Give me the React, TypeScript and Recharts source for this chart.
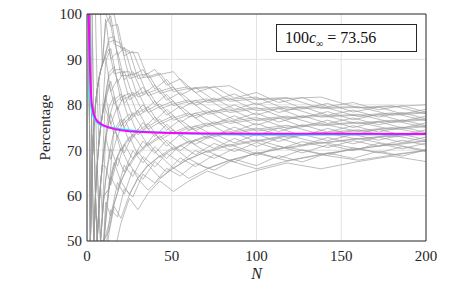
import React from "react";
import {
  LineChart,
  Line,
  XAxis,
  YAxis,
  CartesianGrid,
} from "recharts";

const grayN = [1, 2, 3, 4, 5, 6, 7, 8, 10, 13, 16, 20, 25, 30, 36, 43, 51, 60, 71, 84, 100, 118, 138, 160, 180, 200];

// first group of individual runs (percentage at each grayN)
const grayRuns: number[][] = [
  [100, 100, 100, 100, 100, 100, 100, 100, 100, 100, 100, 92.4, 91.5, 91.5, 85.9, 86.7, 87.3, 83.4, 83.8, 84.2, 81.1, 81.4, 81.7, 79.3, 79.6, 80],
  [100, 100, 100, 100, 100, 100, 100, 100, 100, 100, 93.4, 92.7, 91.9, 85.8, 86.2, 87, 82.9, 83.6, 84, 80.8, 81.3, 81.6, 79.2, 79.4, 79.8, 78],
  [100, 100, 100, 100, 100, 83.3, 85.7, 87.5, 90, 93.8, 94.2, 93.5, 85.8, 86.4, 86.9, 82.5, 83.4, 84, 80.5, 81.2, 81.7, 78.9, 79.4, 79.6, 77.7, 78.2],
  [100, 100, 66.7, 75, 80, 83.3, 85.7, 87.5, 90, 94.7, 95, 86.4, 86.5, 87.1, 82, 83, 83.9, 80.2, 80.9, 81.5, 78.7, 79.3, 79.7, 77.4, 78, 78.4],
  [100, 50, 66.7, 75, 80, 83.3, 85.7, 87.5, 90, 92.3, 86.8, 87.2, 87.3, 81.7, 82.6, 83.6, 79.8, 80.7, 81.3, 78.3, 79.1, 79.6, 77.3, 77.7, 78.2, 76.5],
  [0, 50, 66.7, 75, 80, 83.3, 71.4, 75, 80, 86.3, 87.6, 87.9, 81.1, 82.3, 83.2, 79.1, 80.2, 81.1, 77.9, 78.7, 79.4, 76.9, 77.5, 77.9, 76.1, 76.7],
  [100, 100, 66.7, 50, 60, 66.7, 71.4, 75, 80, 87.1, 88.4, 80.9, 81.9, 82.9, 78.3, 79.6, 80.8, 77.3, 78.3, 79.1, 76.5, 77.2, 77.8, 75.8, 76.4, 76.9],
  [100, 100, 100, 75, 80, 83.3, 85.7, 75, 80, 84.6, 80.2, 81.6, 82.6, 77.6, 78.9, 80.2, 76.6, 77.8, 78.7, 75.9, 76.8, 77.5, 75.4, 76, 76.6, 75],
  [0, 50, 66.7, 50, 60, 66.7, 71.4, 75, 80, 76.9, 81, 82.4, 76.5, 78.2, 79.6, 75.7, 77.1, 78.2, 75.2, 76.3, 77.2, 74.8, 75.6, 76.2, 74.5, 75.2],
  [100, 50, 66.7, 75, 60, 50, 57.1, 62.5, 70, 79.6, 81.8, 75.3, 77.2, 78.8, 74.6, 76.2, 77.6, 74.4, 75.6, 76.7, 74.2, 75.1, 75.9, 74.1, 74.8, 75.4],
  [0, 0, 33.3, 50, 60, 50, 57.1, 62.5, 70, 76.9, 73.6, 76.1, 78, 73.4, 75.2, 76.8, 73.5, 74.9, 76, 73.4, 74.6, 75.5, 73.5, 74.3, 75, 73.5],
  [100, 100, 100, 75, 60, 66.7, 57.1, 50, 60, 69.2, 74.4, 76.8, 71.8, 74.1, 75.9, 72.3, 73.9, 75.3, 72.6, 73.8, 74.9, 72.8, 73.8, 74.5, 72.9, 73.7],
  [0, 50, 33.3, 25, 40, 50, 42.9, 50, 60, 61.5, 75.2, 69.8, 72.6, 74.7, 71, 72.8, 74.5, 71.5, 73, 74.2, 71.9, 73.1, 74, 72.4, 73.2, 73.9],
  [100, 50, 33.3, 50, 40, 33.3, 42.9, 50, 50, 61.5, 66.5, 70.2, 73, 69, 71.3, 73.2, 70.1, 71.8, 73.2, 70.8, 72.1, 73.3, 71.5, 72.5, 73.3, 71.9],
  [0, 0, 33.3, 25, 40, 50, 57.1, 50, 60, 61.5, 66.9, 70.5, 66.5, 69.4, 71.7, 68.4, 70.3, 72, 69.5, 71.1, 72.3, 70.4, 71.6, 72.6, 71.1, 72],
  [0, 50, 33.3, 25, 20, 33.3, 42.9, 37.5, 50, 62.9, 67.3, 63.1, 67, 69.7, 66.6, 68.7, 70.7, 68, 69.8, 71.3, 69.2, 70.6, 71.8, 70.3, 71.3, 72.1],
  [100, 50, 33.3, 25, 40, 33.3, 28.6, 37.5, 50, 53.8, 58.2, 63.1, 67.1, 63.8, 66.6, 68.8, 66, 68.1, 69.8, 67.7, 69.3, 70.7, 69.1, 70.3, 71.3, 70],
  [0, 0, 0, 25, 20, 33.3, 42.9, 50, 50, 52.4, 58.1, 63.1, 60.3, 63.9, 66.8, 63.9, 66.1, 68.1, 66, 67.8, 69.3, 67.7, 69.1, 70.3, 69, 70],
  [0, 50, 33.3, 25, 20, 16.7, 28.6, 37.5, 43.7, 51.8, 57.6, 55, 60.2, 63.7, 61.2, 63.7, 66.1, 63.8, 65.9, 67.7, 65.9, 67.6, 69, 67.8, 68.9, 69.9],
  [0, 0, 0, 0, 20, 16.7, 28.6, 25, 41.7, 50.1, 47.2, 53.9, 59.4, 56.9, 60.5, 63.2, 60.9, 63.2, 65.4, 63.7, 65.5, 67.2, 65.9, 67.5, 68.7, 67.5],
];

// sample sizes for the second group of runs
const grayN2 = [1, 2, 3, 4, 5, 6, 7, 8, 9, 11, 14, 18, 22, 27, 33, 40, 47, 55, 64, 75, 87, 100, 113, 127, 142, 157, 172, 186, 200];

// second group of individual runs (percentage at each grayN2)
const grayRuns2: number[][] = [
  [100, 100, 100, 100, 100, 100, 100, 100, 100, 100, 97.3, 97.7, 90.8, 91.8, 86.2, 87.8, 84.3, 85.7, 82.7, 84, 81.5, 82.7, 80.5, 81.6, 79.6, 80.5, 78.9, 79.8, 78.4],
  [100, 100, 100, 100, 100, 100, 100, 100, 88.9, 97.9, 99.6, 90.9, 92.7, 86.4, 87.8, 83.5, 85.6, 82.1, 83.8, 81, 82.4, 80, 81.3, 79.2, 80.3, 78.4, 79.5, 78, 79],
  [100, 50, 66.7, 75, 80, 83.3, 85.7, 87.5, 88.9, 98.9, 90.1, 91.7, 85.5, 87.3, 82.3, 84.3, 81, 82.7, 79.9, 81.5, 79, 80.4, 78.3, 79.6, 77.7, 78.8, 77.3, 78.3, 76.9],
  [100, 100, 66.7, 75, 80, 66.7, 71.4, 75, 77.8, 89.5, 92.4, 84.9, 87.4, 81.9, 83.9, 80, 82.3, 79.1, 81, 78.4, 80, 77.7, 79.2, 77.2, 78.5, 76.7, 77.9, 76.4, 77.5],
  [0, 50, 66.7, 75, 80, 83.3, 85.7, 87.5, 88.9, 90.5, 82.9, 85.7, 80.3, 82.8, 78.4, 80.8, 77.7, 79.7, 77.1, 78.9, 76.7, 78.2, 76.2, 77.6, 75.9, 77.1, 75.6, 76.7, 75.4],
  [100, 50, 33.3, 50, 60, 66.7, 71.4, 75, 77.8, 81.1, 85.2, 78.9, 82.2, 77.4, 80, 76.5, 79, 76.1, 78.2, 75.8, 77.6, 75.5, 77.1, 75.2, 76.6, 75, 76.3, 74.9, 76],
  [0, 0, 33.3, 50, 60, 66.7, 57.1, 62.5, 66.7, 82.1, 75.7, 79.7, 75, 78.3, 74.5, 77.3, 74.4, 76.7, 74.3, 76.3, 74.2, 75.9, 74.1, 75.6, 74, 75.4, 74, 75.1, 73.9],
  [100, 100, 66.7, 75, 60, 50, 57.1, 62.5, 66.7, 72.7, 78, 72.9, 76.9, 72.9, 76.1, 73, 75.7, 73.1, 75.4, 73.2, 75.1, 73.2, 74.9, 73.2, 74.8, 73.3, 74.6, 73.3, 74.5],
  [0, 50, 33.3, 50, 60, 50, 57.1, 62.5, 55.6, 73.1, 68, 73.3, 69.4, 73.5, 70.3, 73.6, 70.9, 73.5, 71.3, 73.6, 71.6, 73.5, 71.9, 73.5, 72.1, 73.5, 72.2, 73.5, 72.3],
  [100, 50, 66.7, 50, 40, 50, 42.9, 50, 55.6, 63.8, 70.3, 66.5, 71.3, 68.1, 72, 69.3, 72.2, 69.9, 72.3, 70.4, 72.6, 70.8, 72.7, 71.1, 72.8, 71.4, 72.9, 71.7, 72.9],
  [0, 0, 33.3, 25, 40, 50, 57.1, 62.5, 66.7, 66.4, 62.3, 68.5, 65.2, 69.9, 67.2, 70.8, 68.2, 71.1, 69, 71.5, 69.7, 71.7, 70.2, 71.9, 70.6, 72.1, 70.9, 72.2, 71.1],
  [100, 50, 33.3, 25, 40, 33.3, 42.9, 50, 44.4, 56.5, 64.1, 61.3, 66.7, 64.2, 68.6, 66.3, 69.3, 67.3, 69.9, 68.2, 70.4, 68.8, 70.9, 69.4, 71.2, 69.9, 71.5, 70.3, 71.6],
  [0, 50, 33.3, 25, 20, 33.3, 42.9, 37.5, 44.4, 58.6, 55.5, 62.9, 60.3, 65.7, 63.6, 67.5, 65.2, 68.3, 66.4, 69, 67.4, 69.6, 68.2, 70.1, 68.9, 70.5, 69.4, 70.8, 69.7],
  [0, 0, 0, 25, 20, 16.7, 28.6, 37.5, 33.3, 48.1, 56.9, 55.3, 61.5, 59.7, 64.7, 62.8, 66, 64.3, 67.1, 65.6, 68, 66.6, 68.8, 67.4, 69.4, 68.2, 69.8, 68.7, 70.1],
];

// mean of the runs (cyan)
const meanN = [1, 2, 3, 4, 5, 6, 8, 10, 12, 15, 20, 25, 30, 40, 50, 60, 80, 100, 120, 150, 200];
const meanPct = [100, 81, 78.5, 77.3, 76.6, 76.1, 75.6, 75.3, 75.1, 74.9, 74.6, 74.4, 74.2, 73.95, 73.8, 73.7, 73.5, 73.4, 73.4, 73.45, 73.5];

// theoretical curve (magenta)
const theoryN = [1, 1.5, 2, 2.5, 3, 4, 5, 6, 8, 10, 13, 16, 20, 25, 30, 40, 50, 70, 100, 150, 200];
const theoryPct = [100, 91, 85.5, 81.5, 79.6, 77.9, 77, 76.4, 75.8, 75.4, 75, 74.7, 74.4, 74.2, 74.05, 73.9, 73.8, 73.7, 73.64, 73.6, 73.58];

const xTicks = [0, 50, 100, 150, 200];
const yTicks = [50, 60, 70, 80, 90, 100];

const toRows = (ns: number[], vs: number[]) => ns.map((n, i) => ({ n, v: vs[i] }));

const axisColor = "#333333";
const font = { fontFamily: "Liberation Serif", fontSize: 15, fill: "#262626" };

export default function App() {
  const runs = [
    ...grayRuns.map((r) => toRows(grayN, r)),
    ...grayRuns2.map((r) => toRows(grayN2, r)),
  ];
  return (
    <div style={{ position: "absolute", left: 0, top: 0, width: 449, height: 292, background: "#fff" }}>
      <LineChart width={449} height={292} margin={{ top: 14, right: 23, bottom: 21, left: 0 }}>
        <CartesianGrid stroke="#e3e3e3" strokeWidth={1} />

        <XAxis
          type="number"
          dataKey="n"
          domain={[0, 200]}
          ticks={xTicks}
          allowDataOverflow
          tickLine={false}
          tickSize={4}
          tickMargin={5}
          axisLine={{ stroke: axisColor }}
          tick={font}
          height={30}
          label={{ value: "N", position: "bottom", offset: -3, style: { ...font, fontStyle: "italic", fontSize: 16 } }}
        />
        <XAxis xAxisId="top" orientation="top" mirror type="number" domain={[0, 200]} ticks={xTicks} tick={false} tickSize={4} stroke={axisColor} />
        <XAxis xAxisId="bot" orientation="bottom" mirror type="number" domain={[0, 200]} ticks={xTicks} tick={false} tickSize={4} axisLine={false} stroke={axisColor} />

        <YAxis
          type="number"
          domain={[50, 100]}
          ticks={yTicks}
          allowDataOverflow
          width={87}
          tickLine={false}
          tickSize={3}
          tickMargin={2}
          axisLine={{ stroke: axisColor }}
          tick={font}
          label={{ value: "Percentage", angle: -90, position: "insideLeft", offset: 45, style: { ...font, textAnchor: "middle" } }}
        />
        <YAxis yAxisId="lm" orientation="left" mirror type="number" domain={[50, 100]} ticks={yTicks} tick={false} tickSize={4} axisLine={false} stroke={axisColor} />
        <YAxis yAxisId="rm" orientation="right" mirror type="number" domain={[50, 100]} ticks={yTicks} tick={false} tickSize={4} stroke={axisColor} />

        {runs.map((rows, i) => (
          <Line
            key={i}
            data={rows}
            dataKey="v"
            stroke="#9a9a9a"
            strokeWidth={0.65}
            dot={false}
            isAnimationActive={false}
          />
        ))}

        <Line data={toRows(meanN, meanPct)} dataKey="v" stroke="#00ffff" strokeWidth={2} dot={false} isAnimationActive={false} />
        <Line data={toRows(theoryN, theoryPct)} dataKey="v" stroke="#ff00ff" strokeWidth={2} dot={false} isAnimationActive={false} />
      </LineChart>

      <div
        style={{
          position: "absolute",
          left: 276,
          top: 24,
          width: 131,
          height: 26,
          border: "1px solid #262626",
          background: "#fff",
          fontFamily: "Liberation Serif",
          fontSize: 16,
          color: "#111",
          lineHeight: "26px",
          paddingLeft: 8,
          boxSizing: "content-box",
          whiteSpace: "nowrap",
        }}
      >
        100<i>c</i><sub style={{ fontSize: 10, lineHeight: 0 }}>∞</sub> = 73.56
      </div>
    </div>
  );
}
